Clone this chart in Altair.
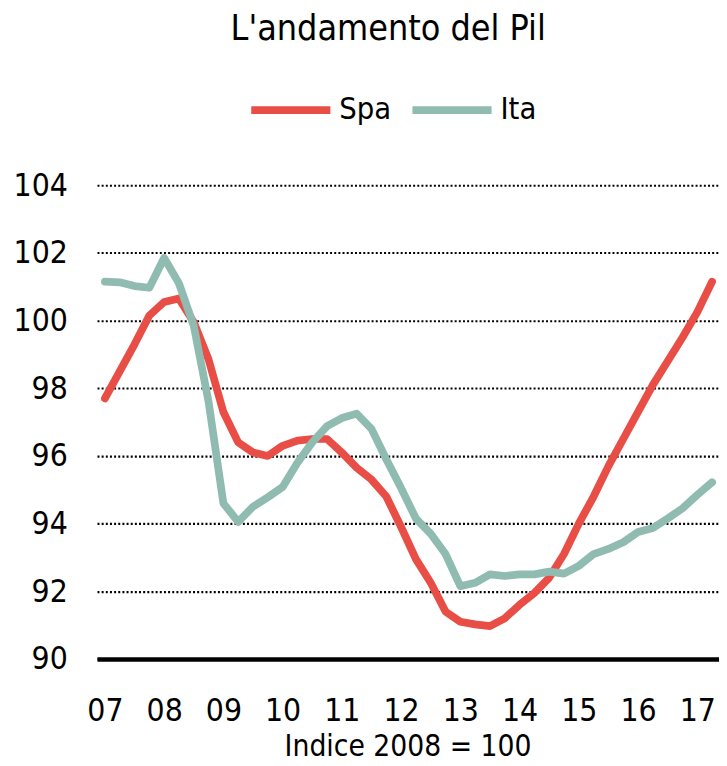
import altair as alt
import pandas as pd

# Quarterly index, 2007Q1 .. 2017Q2 (quarter number 0..41)
quarters = list(range(42))
spa = [97.7, 98.5, 99.3, 100.15, 100.55, 100.65, 99.95, 98.85, 97.3, 96.4,
       96.1, 96.0, 96.3, 96.45, 96.5, 96.5, 96.1, 95.65, 95.3, 94.8,
       93.9, 92.95, 92.25, 91.4, 91.1, 91.02, 90.97, 91.2, 91.6, 91.95,
       92.4, 93.1, 94.0, 94.8, 95.7, 96.5, 97.3, 98.1, 98.8, 99.5,
       100.25, 101.15]
ita = [101.15, 101.13, 101.02, 100.97, 101.85, 101.1, 99.85, 97.6, 94.6, 94.05,
       94.5, 94.78, 95.08, 95.8, 96.4, 96.88, 97.12, 97.25, 96.8, 95.9,
       95.05, 94.15, 93.7, 93.1, 92.15, 92.25, 92.5, 92.45, 92.5, 92.5,
       92.58, 92.52, 92.75, 93.1, 93.25, 93.45, 93.75, 93.87, 94.15, 94.45,
       94.85, 95.22]
series_names = ["Spa", "Ita"]
series_colors = ["#E84E46", "#8FBBB0"]
tick_pos = [0, 4, 8, 12, 16, 20, 24, 28, 32, 36, 40]
tick_labels = ["07", "08", "09", "10", "11", "12", "13", "14", "15", "16", "17"]
y_ticks = [90, 92, 94, 96, 98, 100, 102, 104]

df = pd.DataFrame({
    "q": quarters * 2,
    "v": spa + ita,
    "serie": ["Spa"] * len(spa) + ["Ita"] * len(ita),
})

label_expr = ""
for p, l in zip(tick_pos, tick_labels):
    label_expr += f"datum.value == {p} ? '{l}' : "
label_expr += "''"

FONT = "'DejaVu Sans Condensed', 'Roboto Condensed', 'Liberation Sans Narrow', Roboto, sans-serif"

chart = alt.Chart(df).mark_line(
    strokeWidth=7.8, strokeCap="round", strokeJoin="round"
).encode(
    x=alt.X("q:Q",
            scale=alt.Scale(domain=[-0.534, 41.466], nice=False, zero=False),
            axis=alt.Axis(values=tick_pos, labelExpr=label_expr, grid=False,
                          ticks=False, domain=True, domainColor="black",
                          domainWidth=4.5, labelFont=FONT, labelFontSize=32,
                          labelColor="black", labelPadding=37,
                          title="Indice 2008 = 100", titleFont=FONT,
                          titleFontSize=30, titleFontWeight="normal",
                          titleColor="black", titlePadding=6, titleX=314)),
    y=alt.Y("v:Q",
            scale=alt.Scale(domain=[90, 104], nice=False, zero=False),
            axis=alt.Axis(values=y_ticks, grid=True, gridColor="black",
                          gridDash=[2, 2.2], gridWidth=2.2, ticks=False,
                          domain=False, labelFont=FONT, labelFontSize=32,
                          labelColor="black", labelPadding=30, title=None)),
    color=alt.Color("serie:N",
                    scale=alt.Scale(domain=series_names, range=series_colors),
                    sort=series_names,
                    legend=alt.Legend(orient="none", legendX=152, legendY=-120,
                                      direction="horizontal", title=None,
                                      symbolType="stroke", symbolSize=6400,
                                      symbolStrokeWidth=8, labelFont=FONT,
                                      labelFontSize=31, labelColor="black",
                                      labelOffset=5, columnPadding=5,
                                      padding=0)),
).properties(
    width=629,
    height=479,
    autosize=alt.AutoSizeParams(type="none"),
    padding={"left": 90, "top": 175, "right": 0, "bottom": 102},
    title=alt.TitleParams("L'andamento del Pil", font=FONT, fontSize=36,
                          fontWeight="normal", color="black", anchor="middle",
                          offset=19, dx=-20),
).configure_view(stroke=None)

chart.save("out.html", embed_options={"renderer": "svg", "actions": False})
